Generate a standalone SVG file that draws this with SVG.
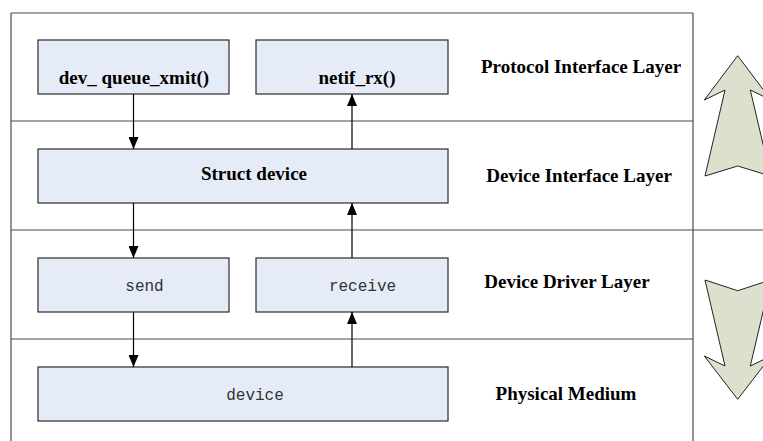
<svg xmlns="http://www.w3.org/2000/svg" width="763" height="441" viewBox="0 0 763 441">
<style>
.frame{stroke:#4a4a4a;stroke-width:1.2;fill:none}
.box{fill:#e6ecf7;stroke:#2a2a2a;stroke-width:1.2}
.bold{font-family:"Liberation Serif","Times New Roman",serif;font-weight:bold;font-size:19px;fill:#000}
.mono{font-family:"Liberation Mono","Courier New",monospace;font-size:16px;fill:#333}
.conn{stroke:#000;stroke-width:1.2;fill:none;marker-end:url(#ah)}
.big{fill:#dde0cc;stroke:#222;stroke-width:1}
</style>
<defs>
<marker id="ah" viewBox="0 0 12 10" refX="12" refY="5" markerWidth="12" markerHeight="10" markerUnits="userSpaceOnUse" orient="auto">
<path d="M0,0 L12,5 L0,10 Z" fill="#000"/>
</marker>
</defs>
<rect width="763" height="441" fill="#fff"/>
<g id="frame">
<path class="frame" d="M11,13 H693 M11,13 V441 M693,13 V441 M11,121 H693 M11,230 H763 M11,339 H693"/>
</g>
<g id="layer-labels">
<text class="bold" x="581" y="73" text-anchor="middle">Protocol Interface Layer</text>
<text class="bold" x="579" y="182" text-anchor="middle">Device Interface Layer</text>
<text class="bold" x="567" y="288" text-anchor="middle">Device Driver Layer</text>
<text class="bold" x="566" y="400" text-anchor="middle">Physical Medium</text>
</g>
<g id="n-dev-queue-xmit">
<rect class="box" x="38" y="40" width="191" height="54"/>
<text class="bold" x="134" y="84" text-anchor="middle">dev_ queue_xmit()</text>
</g>
<g id="n-netif-rx">
<rect class="box" x="256" y="40" width="192" height="54"/>
<text class="bold" x="357" y="84" text-anchor="middle">netif_rx()</text>
</g>
<g id="n-struct-device">
<rect class="box" x="38" y="149" width="410" height="54"/>
<text class="bold" x="254" y="180" text-anchor="middle">Struct device</text>
</g>
<g id="n-send">
<rect class="box" x="38" y="258" width="191" height="54"/>
<text class="mono" x="144.5" y="291" text-anchor="middle">send</text>
</g>
<g id="n-receive">
<rect class="box" x="256" y="258" width="192" height="54"/>
<text class="mono" x="362.5" y="291" text-anchor="middle">receive</text>
</g>
<g id="n-device">
<rect class="box" x="38" y="367" width="410" height="54"/>
<text class="mono" x="255" y="400" text-anchor="middle">device</text>
</g>
<g id="connectors">
<line class="conn" x1="133.5" y1="94" x2="133.5" y2="149"/>
<line class="conn" x1="133.5" y1="203" x2="133.5" y2="258"/>
<line class="conn" x1="133.5" y1="312" x2="133.5" y2="367"/>
<line class="conn" x1="352" y1="149" x2="352" y2="94"/>
<line class="conn" x1="352" y1="258" x2="352" y2="203"/>
<line class="conn" x1="352" y1="367" x2="352" y2="312"/>
</g>
<g id="big-arrows">
<polygon class="big" points="737.7,55.7 771,100 750.3,90 770.5,176 737.7,166 705,176 725,90 704.3,100"/>
<polygon class="big" points="705,280 737.7,290.7 770.5,280 750.3,366 771,356 737.7,399.3 704.3,356 725,366"/>
</g>
</svg>
